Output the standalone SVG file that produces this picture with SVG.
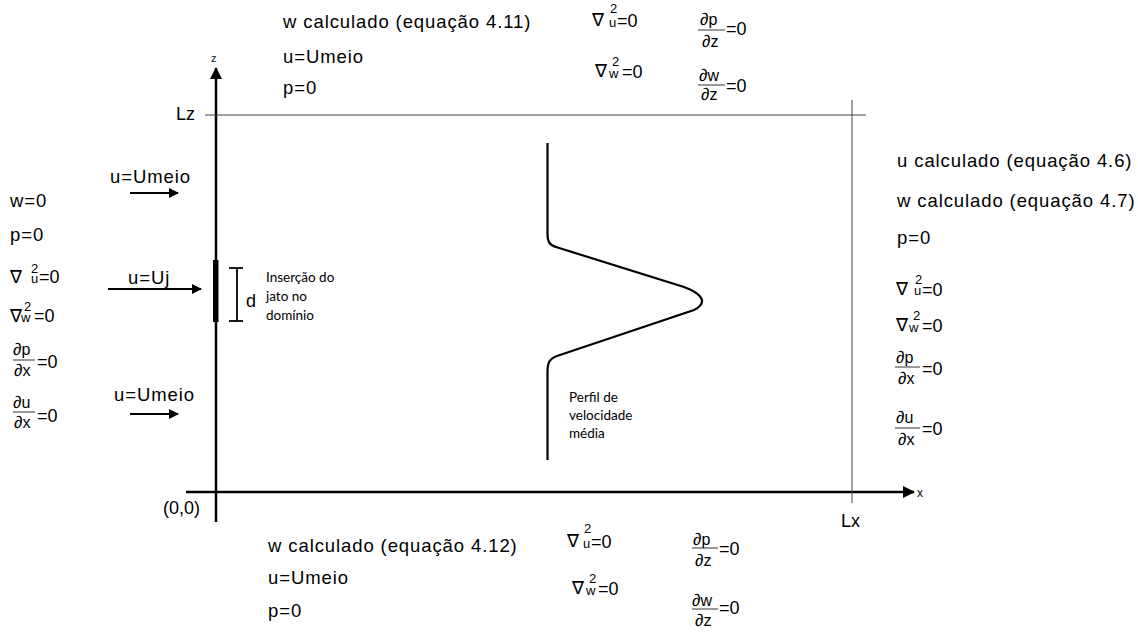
<svg xmlns="http://www.w3.org/2000/svg" width="1138" height="632" viewBox="0 0 1138 632">
<defs>
<style>
.t{font-family:"Liberation Sans",Arial,sans-serif;font-size:18.5px;letter-spacing:0.9px;fill:#000}
.m{font-family:"Liberation Sans",Arial,sans-serif;font-size:18px;fill:#000}
.nab{font-family:"DejaVu Sans","Liberation Sans",sans-serif;font-size:18px;fill:#000}
.ss{font-size:13px;font-family:"Liberation Sans",Arial,sans-serif}
.eq{font-size:18px;font-family:"Liberation Sans",Arial,sans-serif}
.f{font-family:"Liberation Sans",Arial,sans-serif;font-size:16px;fill:#000}
.d{font-style:italic;font-size:17px;font-family:"Liberation Sans","DejaVu Sans",sans-serif}
.c{font-family:Lato,"Open Sans",sans-serif;font-size:13.5px;fill:#000}
.ax{stroke:#000;stroke-width:2.5;fill:none}
.thin{stroke:#444;stroke-width:1;fill:none}
.fl{stroke:#000;stroke-width:0.8}
.ar{stroke:#000;stroke-width:1.8;fill:none}
</style>
<marker id="ah" viewBox="0 0 10 10" refX="9" refY="5" markerWidth="10" markerHeight="10" markerUnits="userSpaceOnUse" orient="auto">
<path d="M0,0 L10,5 L0,10 z" fill="#000"/>
</marker>
<marker id="ahb" viewBox="0 0 12 12" refX="11" refY="6" markerWidth="12" markerHeight="12" markerUnits="userSpaceOnUse" orient="auto">
<path d="M0,0 L12,6 L0,12 z" fill="#000"/>
</marker>
</defs>

<g id="axes">
<line class="ax" x1="216" y1="522" x2="216" y2="68" marker-end="url(#ahb)"/>
<line class="ax" x1="186" y1="492" x2="914" y2="492" marker-end="url(#ahb)"/>
<line class="thin" x1="205" y1="115" x2="866" y2="115"/>
<line class="thin" x1="852" y1="100" x2="852" y2="503"/>
<text x="211" y="62" font-family="Liberation Sans,Arial,sans-serif" font-size="11" fill="#223">z</text>
<text x="917" y="497" font-family="Liberation Sans,Arial,sans-serif" font-size="12" fill="#000">x</text>
<text x="176" y="120" class="m" fill="#222">Lz</text>
<text x="163" y="514" class="m" fill="#222">(0,0)</text>
<text x="841" y="527" class="m" fill="#222">Lx</text>
</g>

<g id="jet">
<rect x="213" y="260" width="5.5" height="62" fill="#000"/>
<line x1="237" y1="268" x2="237" y2="321" stroke="#000" stroke-width="1.8"/>
<line x1="229" y1="268" x2="243" y2="268" stroke="#000" stroke-width="1.8"/>
<line x1="229" y1="321" x2="243" y2="321" stroke="#000" stroke-width="1.8"/>
<text x="246" y="307" class="m">d</text>
<text x="266" y="282" class="c">Inserção do</text>
<text x="266" y="301" class="c">jato no</text>
<text x="266" y="320" class="c">domínio</text>
</g>

<g id="profile">
<path d="M547.5,143 L547.5,234 C547.5,241 549,245 556,247 L684,287 C703,294 708,303 694,310 L557,356 C549,359 547.5,363 547.5,372 L547.5,460" fill="none" stroke="#000" stroke-width="2.2"/>
<text x="569" y="402" class="c">Perfil de</text>
<text x="569" y="420" class="c">velocidade</text>
<text x="569" y="438" class="c">média</text>
</g>

<g id="connectors">
<line class="ar" x1="130" y1="193" x2="178" y2="193" marker-end="url(#ah)"/>
<line class="ar" x1="108" y1="289" x2="201" y2="289" marker-end="url(#ah)"/>
<line class="ar" x1="130" y1="414" x2="178" y2="414" marker-end="url(#ah)"/>
</g>

<g id="inlet-labels">
<text x="110" y="183" class="t">u=Umeio</text>
<text x="128" y="284" class="t">u=Uj</text>
<text x="114" y="401" class="t">u=Umeio</text>
</g>

<g id="left-bc">
<text x="10" y="207" class="t">w=0</text>
<text x="10" y="241" class="t">p=0</text>
<text class="nab" x="10" y="283">∇<tspan class="ss" x="31" dy="-10">2</tspan><tspan class="ss" x="31" dy="10">u</tspan><tspan class="eq" x="39">=0</tspan></text>
<text class="nab" x="10" y="322">∇<tspan class="ss" x="24" dy="-11">2</tspan><tspan class="ss" x="21" dy="11">w</tspan><tspan class="eq" x="34">=0</tspan></text>
<g transform="translate(13,360)"><text class="f" x="0" y="-5"><tspan class="d">∂</tspan>p</text><line class="fl" x1="0" y1="0" x2="22" y2="0"/><text class="f" x="1" y="16"><tspan class="d">∂</tspan>x</text><text class="m" x="24" y="8">=0</text></g>
<g transform="translate(13,412)"><text class="f" x="0" y="-4"><tspan class="d">∂</tspan>u</text><line class="fl" x1="0" y1="0" x2="22" y2="0"/><text class="f" x="1" y="16"><tspan class="d">∂</tspan>x</text><text class="m" x="24" y="10">=0</text></g>
</g>

<g id="top-bc">
<text x="283" y="28" class="t">w calculado (equação 4.11)</text>
<text x="283" y="63" class="t">u=Umeio</text>
<text x="283" y="94" class="t">p=0</text>
<text class="nab" x="592" y="26">∇<tspan class="ss" x="610" dy="-13">2</tspan><tspan class="ss" x="609" dy="14">u</tspan><tspan class="eq" x="617">=0</tspan></text>
<text class="nab" x="595" y="77">∇<tspan class="ss" x="612" dy="-11">2</tspan><tspan class="ss" x="609" dy="12">w</tspan><tspan class="eq" x="622">=0</tspan></text>
<g transform="translate(698,30)"><text class="f" x="2" y="-5"><tspan class="d">∂</tspan>p</text><line class="fl" x1="0" y1="0" x2="27" y2="0"/><text class="f" x="4" y="17"><tspan class="d">∂</tspan>z</text><text class="m" x="28" y="5">=0</text></g>
<g transform="translate(698,85)"><text class="f" x="1" y="-4"><tspan class="d">∂</tspan>w</text><line class="fl" x1="0" y1="0" x2="27" y2="0"/><text class="f" x="3" y="15"><tspan class="d">∂</tspan>z</text><text class="m" x="28" y="7">=0</text></g>
</g>

<g id="right-bc">
<text x="897" y="167" class="t">u calculado (equação 4.6)</text>
<text x="897" y="207" class="t">w calculado (equação 4.7)</text>
<text x="897" y="244" class="t">p=0</text>
<text class="nab" x="896" y="295">∇<tspan class="ss" x="915" dy="-11">2</tspan><tspan class="ss" x="914" dy="11">u</tspan><tspan class="eq" x="922" dy="1">=0</tspan></text>
<text class="nab" x="896" y="331">∇<tspan class="ss" x="913" dy="-11">2</tspan><tspan class="ss" x="909" dy="12">w</tspan><tspan class="eq" x="922">=0</tspan></text>
<g transform="translate(895,367)"><text class="f" x="1" y="-4"><tspan class="d">∂</tspan>p</text><line class="fl" x1="0" y1="0" x2="25" y2="0"/><text class="f" x="3" y="17"><tspan class="d">∂</tspan>x</text><text class="m" x="27" y="8">=0</text></g>
<g transform="translate(895,428)"><text class="f" x="1" y="-5"><tspan class="d">∂</tspan>u</text><line class="fl" x1="0" y1="0" x2="25" y2="0"/><text class="f" x="3" y="17"><tspan class="d">∂</tspan>x</text><text class="m" x="27" y="7">=0</text></g>
</g>

<g id="bottom-bc">
<text x="268" y="552" class="t">w calculado (equação 4.12)</text>
<text x="268" y="584" class="t">u=Umeio</text>
<text x="268" y="617" class="t">p=0</text>
<text class="nab" x="567" y="547">∇<tspan class="ss" x="584" dy="-14">2</tspan><tspan class="ss" x="583" dy="15">u</tspan><tspan class="eq" x="591">=0</tspan></text>
<text class="nab" x="572" y="594">∇<tspan class="ss" x="589" dy="-11">2</tspan><tspan class="ss" x="586" dy="12">w</tspan><tspan class="eq" x="598">=0</tspan></text>
<g transform="translate(692,548)"><text class="f" x="1" y="-3"><tspan class="d">∂</tspan>p</text><line class="fl" x1="0" y1="0" x2="26" y2="0"/><text class="f" x="3" y="18"><tspan class="d">∂</tspan>z</text><text class="m" x="27" y="7">=0</text></g>
<g transform="translate(692,609)"><text class="f" x="0" y="-3"><tspan class="d">∂</tspan>w</text><line class="fl" x1="0" y1="0" x2="26" y2="0"/><text class="f" x="3" y="17"><tspan class="d">∂</tspan>z</text><text class="m" x="27" y="5">=0</text></g>
</g>
</svg>
